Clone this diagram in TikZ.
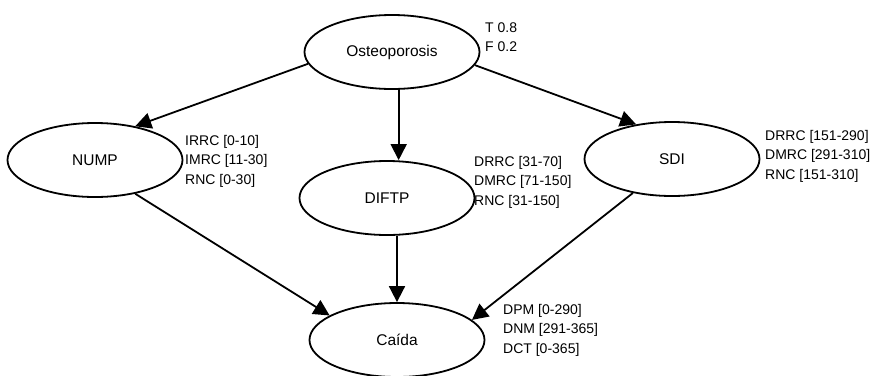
\documentclass[tikz,border=0pt]{standalone}
\usepackage{fontspec}
\setmainfont{Liberation Sans}
\usetikzlibrary{shapes.geometric,arrows.meta}
\begin{document}
\begin{tikzpicture}[
		x=1bp, y=-1bp,
		var/.style = {ellipse, draw, line width=1.8bp, minimum width=175bp, minimum height=74bp, inner sep=0pt, font=\fontsize{15.5bp}{19.5bp}\selectfont},
		lbl/.style = {anchor=west, align=left, inner sep=0pt, font=\fontsize{14bp}{19.5bp}\selectfont},
		arr/.style = {line width=1.8bp, -{Triangle[length=16bp,width=16bp]}}
		]
		\useasboundingbox (0,0) rectangle (874,375);
		
		\node[var] (ost)  at (392, 52) {Osteoporosis};
		\node[var] (nump) at (95, 160) {NUMP};
		\node[var] (dif)  at (387, 198) {DIFTP};
		\node[var] (sdi)  at (672, 159) {SDI};
		\node[var] (cai)  at (397, 340) {Caída};
		
		% Arcs
		\draw[arr] (ost.188) -- (nump.40);
		\draw[arr] (ost.-80) -- (ost.-80 |- dif.north);
		\draw[arr] (ost.-9) -- (sdi.136);
		\draw[arr] (nump.-40) -- (cai.160);
		\draw[arr] (dif.south -| cai.north) -- (cai.north);
		\draw[arr] (sdi.221) -- (cai.15);
		
		% Labels: states
		\node[lbl] (lo) at (485, 37) {T 0.8\\F 0.2};
		\node[lbl] (ln) at (185, 161) {IRRC [0-10]\\IMRC [11-30]\\RNC [0-30]};
		\node[lbl] (ld) at (474, 182) {DRRC [31-70]\\DMRC [71-150]\\RNC [31-150]};
		\node[lbl] (ls) at (765, 156) {DRRC [151-290]\\DMRC [291-310]\\RNC [151-310]};
		\node[lbl] (lc) at (503, 330) {DPM [0-290]\\DNM [291-365]\\DCT [0-365]};
	\end{tikzpicture}
\end{document}
